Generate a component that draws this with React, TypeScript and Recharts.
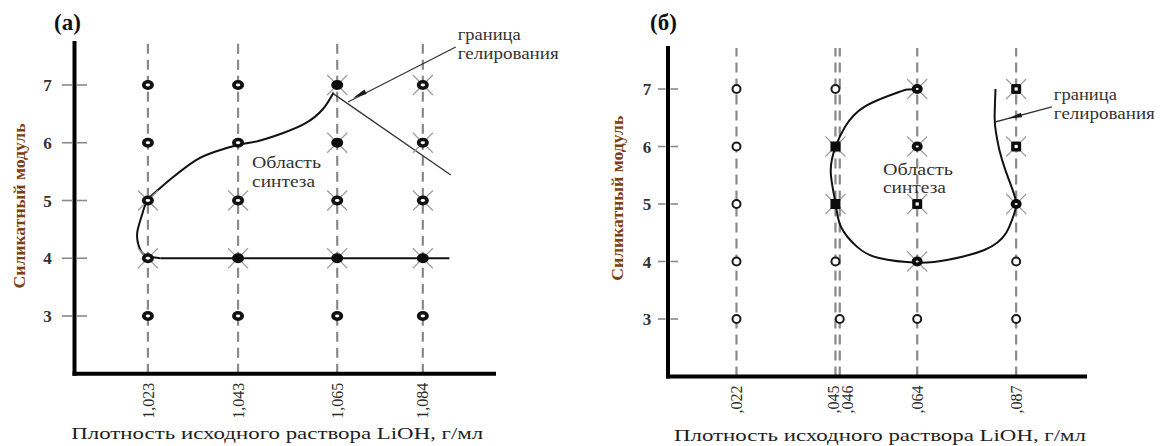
import React from "react";
import { ScatterChart, Scatter, XAxis, YAxis, ReferenceLine } from "recharts";

const FONT = "'Liberation Serif', 'Times New Roman', serif";

// silicate modulus levels (rows)
const moduli = [3, 4, 5, 6, 7];

// ---- panel (а) ----
const densityA = [1.023, 1.043, 1.065, 1.084];
const densityLabelsA = ["1,023", "1,043", "1,065", "1,084"];
// marker kind per density column, moduli 3..7
// o = ring, f = filled, s = solid square, q = square with hole; trailing x = grey cross
const kindsA = [
  ["o", "ox", "ox", "o", "o"],
  ["o", "fx", "ox", "o", "o"],
  ["o", "fx", "ox", "fx", "fx"],
  ["o", "fx", "ox", "ox", "ox"],
];
const synthesisEdgeA = [
  { x: 1.0642, y: 6.87 },
  { x: 1.0618, y: 6.58 },
  { x: 1.0578, y: 6.33 },
  { x: 1.0527, y: 6.16 },
  { x: 1.0475, y: 6.03 },
  { x: 1.043, y: 5.96 },
  { x: 1.0377, y: 5.84 },
  { x: 1.0335, y: 5.69 },
  { x: 1.0282, y: 5.38 },
  { x: 1.0252, y: 5.18 },
  { x: 1.0229, y: 5.0 },
  { x: 1.0218, y: 4.78 },
  { x: 1.0207, y: 4.48 },
  { x: 1.0208, y: 4.26 },
  { x: 1.0218, y: 4.09 },
  { x: 1.0236, y: 4.02 },
  { x: 1.0258, y: 4.0 },
];
const floorLineA = [
  { x: 1.0258, y: 4.0 },
  { x: 1.0899, y: 4.0 },
];
const gelLineA = [
  { x: 1.0641, y: 6.85 },
  { x: 1.0902, y: 5.44 },
];
// start, arrow tip, end
const gelArrowA = [
  { x: 1.0913, y: 7.658 },
  { x: 1.0685, y: 6.775 },
  { x: 1.0674, y: 6.706 },
];
const regionNoteA = [{ x: 1.0461, y: 5.563, lines: ["Область", "синтеза"] }];
const gelNoteA = [{ x: 1.0913, y: 7.658, lines: ["граница", "гелирования"] }];

// ---- panel (б) ----
const densityB = [1.022, 1.045, 1.046, 1.064, 1.087];
const densityLabelsB = [",022", ",045", ",046", ",064", ",087"];
const kindsB = [
  ["o", "o", "o", "o", "o"],
  ["", "o", "sx", "sx", "o"],
  ["o", "", "", "", ""],
  ["o", "fx", "qx", "fx", "fx"],
  ["o", "o", "fx", "qx", "qx"],
];
const loopB = [
  { x: 1.064, y: 7.0 },
  { x: 1.0617, y: 6.99 },
  { x: 1.0591, y: 6.93 },
  { x: 1.0517, y: 6.69 },
  { x: 1.0472, y: 6.34 },
  { x: 1.045, y: 5.99 },
  { x: 1.0439, y: 5.56 },
  { x: 1.045, y: 5.02 },
  { x: 1.0463, y: 4.6 },
  { x: 1.0501, y: 4.25 },
  { x: 1.0551, y: 4.06 },
  { x: 1.064, y: 3.98 },
  { x: 1.0712, y: 4.03 },
  { x: 1.0796, y: 4.2 },
  { x: 1.0847, y: 4.5 },
  { x: 1.0872, y: 4.99 },
];
const gelEdgeB = [
  { x: 1.0872, y: 4.99 },
  { x: 1.0862, y: 5.24 },
  { x: 1.0845, y: 5.59 },
  { x: 1.0831, y: 5.94 },
  { x: 1.0823, y: 6.25 },
  { x: 1.082, y: 6.5 },
  { x: 1.0822, y: 7.0 },
];
const gelArrowB = [
  { x: 1.0953, y: 6.687 },
  { x: 1.0851, y: 6.487 },
  { x: 1.0821, y: 6.426 },
];
const regionNoteB = [{ x: 1.05605, y: 5.504, lines: ["Область", "синтеза"] }];
const gelNoteB = [{ x: 1.0953, y: 6.687, lines: ["граница", "гелирования"] }];

const buildPoints = (dens: number[], kinds: string[][]) =>
  dens
    .flatMap((d, i) => moduli.map((m, j) => ({ x: d, y: m, kind: kinds[i][j] })))
    .filter((p) => p.kind);

const pointsA = buildPoints(densityA, kindsA);
const pointsB = buildPoints(densityB, kindsB);

const Marker = (props: any) => {
  const { cx, cy, heavy } = props;
  const kind: string = props.payload?.kind ?? props.kind ?? "o";
  if (!Number.isFinite(cx) || !Number.isFinite(cy)) return <g />;
  const base = kind[0];
  const cross = kind.endsWith("x");
  let body: React.ReactNode = null;
  if (base === "o") {
    body = heavy ? (
      <>
        <ellipse cx={cx} cy={cy} rx={6} ry={5} fill="#111" />
        <ellipse cx={cx} cy={cy} rx={2.2} ry={1.4} fill="#fff" />
      </>
    ) : (
      <ellipse cx={cx} cy={cy} rx={4} ry={4} fill="#fff" stroke="#1a1a1a" strokeWidth={2} />
    );
  } else if (base === "f") {
    body = (
      <>
        <ellipse cx={cx} cy={cy} rx={heavy ? 6 : 5.5} ry={5} fill="#0c0c0c" />
        {!heavy && <ellipse cx={cx} cy={cy} rx={1.5} ry={1.1} fill="#fff" />}
      </>
    );
  } else if (base === "s") {
    body = <rect x={cx - 5} y={cy - 5} width={10} height={10} fill="#0c0c0c" />;
  } else if (base === "q") {
    body = (
      <>
        <rect x={cx - 5} y={cy - 5} width={10} height={10} rx={1.5} fill="#0c0c0c" />
        <rect x={cx - 1.6} y={cy - 1.6} width={3.2} height={3.2} fill="#fff" />
      </>
    );
  }
  return (
    <g>
      {cross && (
        <g stroke="#9a9a9a" strokeWidth={1.1}>
          <line x1={cx - 10} y1={cy - 10} x2={cx + 10} y2={cy + 10} />
          <line x1={cx - 10} y1={cy + 10} x2={cx + 10} y2={cy - 10} />
        </g>
      )}
      {body}
    </g>
  );
};

const NoShape = () => <g />;

const Note = (props: any) => {
  const { cx, cy, payload, shiftX = 0, rows, widths } = props;
  if (!Number.isFinite(cx) || !payload) return <g />;
  return (
    <g>
      {payload.lines.map((t: string, i: number) => (
        <text
          key={t}
          x={cx + shiftX}
          y={cy + rows[i]}
          textLength={widths[i]}
          lengthAdjust="spacingAndGlyphs"
          fontFamily={FONT}
          fontSize={16}
          fill="#333"
        >
          {t}
        </text>
      ))}
    </g>
  );
};

// thin leader line with a slim arrow head at the middle point
const arrowLine = (props: any) => {
  const pts = props.points;
  if (!pts || pts.length < 3) return <g />;
  const [a, tip, end] = pts;
  const ang = Math.atan2(tip.y - a.y, tip.x - a.x);
  const len = 14;
  const w = 2.4;
  const bx = tip.x - len * Math.cos(ang);
  const by = tip.y - len * Math.sin(ang);
  const nx = -Math.sin(ang) * w;
  const ny = Math.cos(ang) * w;
  return (
    <g>
      <path d={`M${a.x},${a.y}L${end.x},${end.y}`} stroke="#333" strokeWidth={1.3} fill="none" />
      <path d={`M${tip.x},${tip.y}L${bx + nx},${by + ny}L${bx - nx},${by - ny}Z`} fill="#1a1a1a" />
    </g>
  );
};

const XTick = (props: any) => {
  const { x, y, payload, values, labels, nudge } = props;
  const i = values.indexOf(payload.value);
  const lx = x + (nudge?.[i] ?? 0);
  return (
    <text
      transform={`translate(${lx},${y}) rotate(-90)`}
      textAnchor="end"
      dy="0.35em"
      fontFamily={FONT}
      fontSize={16}
      fill="#2b2b2b"
    >
      {labels[i]}
    </text>
  );
};

const YTick = (props: any) => {
  const { x, y, payload, half, gap } = props;
  return (
    <g>
      <line x1={x - half} x2={x - 2.5} y1={y} y2={y} stroke="#8a8a8a" strokeWidth={1.6} />
      <line x1={x + 2.5} x2={x + half} y1={y} y2={y} stroke="#8a8a8a" strokeWidth={1.6} />
      <text
        x={x - gap}
        y={y}
        dy="0.36em"
        textAnchor="middle"
        fontFamily={FONT}
        fontWeight="bold"
        fontSize={17}
        fill="#333"
      >
        {payload.value}
      </text>
    </g>
  );
};

const YTitle = (props: any) => {
  const { viewBox, shiftX = 0, shiftY = 0 } = props;
  if (!viewBox) return null;
  const cx = viewBox.x + shiftX;
  const cy = viewBox.y + viewBox.height / 2 + shiftY;
  return (
    <text
      x={cx}
      y={cy}
      transform={`rotate(-90 ${cx} ${cy})`}
      textAnchor="middle"
      dy="0.35em"
      textLength={165}
      lengthAdjust="spacingAndGlyphs"
      fontFamily={FONT}
      fontSize={17}
      fontWeight="bold"
      fill="#7a4212"
    >
      Силикатный модуль
    </text>
  );
};

const XTitle = (props: any) => {
  const { viewBox, shiftX = 0, baseline = 64 } = props;
  if (!viewBox) return null;
  const cx = viewBox.x + viewBox.width / 2 + shiftX;
  return (
    <text
      x={cx}
      y={viewBox.y + baseline}
      textAnchor="middle"
      textLength={412}
      lengthAdjust="spacingAndGlyphs"
      fontFamily={FONT}
      fontSize={17}
      fill="#1e1e1e"
    >
      Плотность исходного раствора LiOH, г/мл
    </text>
  );
};

const axisLine = { stroke: "#000", strokeWidth: 4, strokeLinecap: "square" as const };

const DensityLines = (dens: number[]) =>
  dens.map((d) => (
    <ReferenceLine key={d} x={d} stroke="#8a8a8a" strokeWidth={2.2} strokeDasharray="10 6" />
  ));

const PanelLetter = ({ left, text }: { left: number; text: string }) => (
  <div
    style={{
      position: "absolute",
      left,
      top: 11,
      fontFamily: FONT,
      fontWeight: "bold",
      fontSize: 23,
      lineHeight: "23px",
      color: "#111",
    }}
  >
    {text}
  </div>
);

export default function App() {
  return (
    <div style={{ position: "absolute", left: 0, top: 0, width: 1162, height: 446, background: "#fff" }}>
      <PanelLetter left={54} text="(a)" />
      <PanelLetter left={650} text="(б)" />

      <div style={{ position: "absolute", left: 0, top: 0 }}>
        <ScatterChart width={580} height={446} margin={{ top: 43, right: 86, bottom: 12.25, left: 14.5 }}>
          <XAxis
            type="number"
            dataKey="x"
            domain={[1.00671, 1.09979]}
            ticks={densityA}
            interval={0}
            height={60}
            axisLine={axisLine}
            tickLine={false}
            tickSize={0}
            tickMargin={9}
            tick={(p: any) => <XTick {...p} values={densityA} labels={densityLabelsA} />}
            label={<XTitle shiftX={-7} baseline={65} />}
          />
          <YAxis
            type="number"
            dataKey="y"
            domain={[2, 7.727]}
            ticks={moduli}
            interval={0}
            width={60}
            axisLine={axisLine}
            tickLine={false}
            tickSize={0}
            tickMargin={0}
            tick={(p: any) => <YTick {...p} half={12.5} gap={27} />}
            label={<YTitle shiftX={5} shiftY={-2.4} />}
          />
          {DensityLines(densityA)}
          <Scatter
            data={synthesisEdgeA}
            line={{ stroke: "#111", strokeWidth: 2 }}
            lineJointType="natural"
            shape={NoShape}
            isAnimationActive={false}
          />
          <Scatter data={floorLineA} line={{ stroke: "#111", strokeWidth: 2 }} shape={NoShape} isAnimationActive={false} />
          <Scatter data={gelLineA} line={{ stroke: "#333", strokeWidth: 1.3 }} shape={NoShape} isAnimationActive={false} />
          <Scatter data={gelArrowA} line={arrowLine} shape={NoShape} isAnimationActive={false} />
          <Scatter data={pointsA} shape={(p: any) => <Marker {...p} heavy />} isAnimationActive={false} />
          <Scatter
            data={regionNoteA}
            shape={(p: any) => <Note {...p} rows={[0, 19]} widths={[69, 63]} />}
            isAnimationActive={false}
          />
          <Scatter
            data={gelNoteA}
            shape={(p: any) => <Note {...p} shiftX={2} rows={[-7, 12]} widths={[63, 101]} />}
            isAnimationActive={false}
          />
        </ScatterChart>
      </div>

      <div style={{ position: "absolute", left: 580, top: 0 }}>
        <ScatterChart width={582} height={446} margin={{ top: 48, right: 77, bottom: 9.5, left: 28 }}>
          <XAxis
            type="number"
            dataKey="x"
            domain={[1.00608, 1.103]}
            ticks={densityB}
            interval={0}
            height={60}
            axisLine={axisLine}
            tickLine={false}
            tickSize={0}
            tickMargin={9}
            tick={(p: any) => (
              <XTick {...p} values={densityB} labels={densityLabelsB} nudge={[0, -2, 8, 0, 0]} />
            )}
            label={<XTitle shiftX={3.5} baseline={64.5} />}
          />
          <YAxis
            type="number"
            dataKey="y"
            domain={[2, 7.713]}
            ticks={moduli}
            interval={0}
            width={60}
            axisLine={axisLine}
            tickLine={false}
            tickSize={0}
            tickMargin={0}
            tick={(p: any) => <YTick {...p} half={10} gap={21} />}
            label={<YTitle shiftX={9} shiftY={-14} />}
          />
          {DensityLines(densityB)}
          <Scatter
            data={loopB}
            line={{ stroke: "#111", strokeWidth: 2 }}
            lineJointType="natural"
            shape={NoShape}
            isAnimationActive={false}
          />
          <Scatter
            data={gelEdgeB}
            line={{ stroke: "#111", strokeWidth: 2 }}
            lineJointType="natural"
            shape={NoShape}
            isAnimationActive={false}
          />
          <Scatter data={gelArrowB} line={arrowLine} shape={NoShape} isAnimationActive={false} />
          <Scatter data={pointsB} shape={(p: any) => <Marker {...p} />} isAnimationActive={false} />
          <Scatter
            data={regionNoteB}
            shape={(p: any) => <Note {...p} rows={[0, 18]} widths={[70, 63]} />}
            isAnimationActive={false}
          />
          <Scatter
            data={gelNoteB}
            shape={(p: any) => <Note {...p} shiftX={2} rows={[-7, 12]} widths={[63, 101]} />}
            isAnimationActive={false}
          />
        </ScatterChart>
      </div>
    </div>
  );
}
